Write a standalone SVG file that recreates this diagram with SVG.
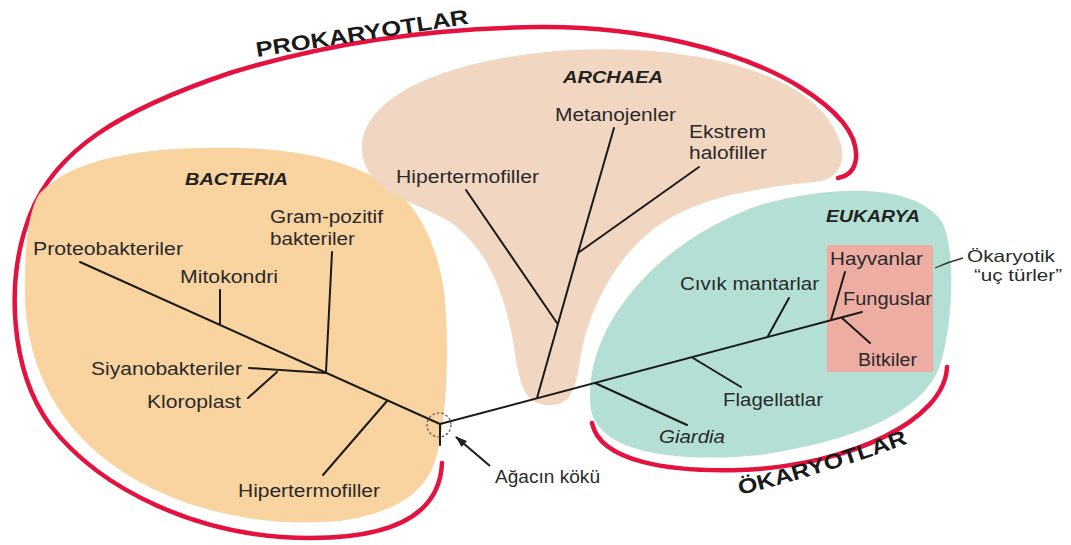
<svg xmlns="http://www.w3.org/2000/svg" width="1071" height="545" viewBox="0 0 1071 545">
<defs>
<marker id="ah" markerWidth="12" markerHeight="10" refX="11" refY="5" orient="auto" markerUnits="userSpaceOnUse"><path d="M0,1 L12,5 L0,9 Z" fill="#222"/></marker>
<path id="pp" d="M 257 57 L 473 23"/>
<path id="ep" d="M 740 495 Q 825 474 912 442"/>
</defs>
<style>
text{font-family:"Liberation Sans",Arial,sans-serif;font-size:17.5px;fill:#2a2a2a}
.dom{font-weight:bold;font-style:italic;font-size:17px;fill:#222}
.big{font-weight:bold;font-size:21px;fill:#1a1a1a}
.it{font-style:italic}
.sm{font-size:16.5px}
.br{stroke:#1a1a1a;stroke-width:2;fill:none;stroke-linecap:round}
.red{stroke:#E3123F;stroke-width:4.5;fill:none;stroke-linecap:round}
</style>
<rect width="1071" height="545" fill="#ffffff"/>

<g id="prokaryotes">
<path class="red" d="M 442 463 C 440 510 400 538 310 538 C 200 538 100 490 50 425 C 10 370 5 280 30 215 C 55 150 120 110 230 73 C 330 42 430 28 540 27 C 640 26 740 50 800 87 C 840 112 858 135 856 158 C 855 170 848 176 838 178"/>
<text class="big"><textPath href="#pp" textLength="215" lengthAdjust="spacingAndGlyphs">PROKARYOTLAR</textPath></text>
</g>

<g id="bacteria">
<path fill="#F9D3A0" d="M 40 193 C 70 160 140 145 240 148 C 320 150 370 170 397 192 C 420 210 440 250 445 300 C 449 350 447 410 438 450 C 430 490 400 512 340 521 C 260 528 180 510 120 470 C 60 430 28 370 25 300 C 24 250 28 210 40 193 Z"/>
<text class="dom" x="185" y="185" textLength="103" lengthAdjust="spacingAndGlyphs">BACTERIA</text>
</g>

<g id="archaea">
<path fill="#F1D6C1" d="M 362 150 C 360 95 450 58 570 50 C 690 44 800 70 832 125 C 848 150 846 174 822 181 C 760 188 700 195 655 228 C 615 258 588 310 580 360 C 575 395 568 405 550 405 C 530 405 522 395 516 360 C 508 300 490 250 450 222 C 420 202 365 195 362 150 Z"/>
<text class="dom" x="563" y="83" textLength="100" lengthAdjust="spacingAndGlyphs">ARCHAEA</text>
</g>

<g id="eukarya">
<path fill="#B3DFD5" d="M 590 395 C 590 320 660 240 760 205 C 830 185 915 182 942 222 C 957 250 952 330 940 365 C 925 410 860 440 760 455 C 690 462 625 455 602 430 C 592 420 590 410 590 395 Z"/>
<rect x="827" y="245" width="106" height="127" fill="#EEADA3"/>
<text class="dom" x="826" y="222" textLength="94" lengthAdjust="spacingAndGlyphs">EUKARYA</text>
</g>

<g id="eukaryotes">
<path class="red" d="M 592 423 C 600 462 670 472 740 470 C 850 466 945 420 947 367"/>
<text class="big"><textPath href="#ep" textLength="176" lengthAdjust="spacingAndGlyphs">ÖKARYOTLAR</textPath></text>
</g>

<g id="connectors">
<path class="br" d="M 80 262 L 440 424"/>
<path class="br" d="M 220 290 L 220 324"/>
<path class="br" d="M 332 252 L 326 372"/>
<path class="br" d="M 249 368 L 326 373"/>
<path class="br" d="M 248 398 L 277 372"/>
<path class="br" d="M 387 401 L 323 475"/>
<path class="br" d="M 440 424 L 440 445"/>
<path class="br" d="M 440 424 L 862 312"/>
<path class="br" d="M 537 398 L 578 253"/>
<path class="br" d="M 578 253 L 614 128"/>
<path class="br" d="M 578 253 L 699 167"/>
<path class="br" d="M 466 190 L 557 323"/>
<path class="br" d="M 595 383 L 687 425"/>
<path class="br" d="M 693 358 L 741 387"/>
<path class="br" d="M 768 336 L 789 298"/>
<path class="br" d="M 831 320 L 845 272"/>
<path class="br" d="M 842 318 L 870 343"/>
<path d="M 935 268 Q 948 262 963 258" stroke="#333" stroke-width="1.3" fill="none"/>
<path d="M 490 466 L 456 437" stroke="#222" stroke-width="2.2" fill="none" marker-end="url(#ah)"/>
</g>

<g id="root">
<circle cx="439" cy="425" r="12" fill="none" stroke="#555" stroke-width="1.2" stroke-dasharray="2.5 2"/>
<text x="495" y="483" textLength="105" lengthAdjust="spacingAndGlyphs">Ağacın kökü</text>
</g>

<g id="n-proteo"><text x="33" y="255" textLength="150" lengthAdjust="spacingAndGlyphs">Proteobakteriler</text></g>
<g id="n-mito"><text x="180" y="283" textLength="98" lengthAdjust="spacingAndGlyphs">Mitokondri</text></g>
<g id="n-gram"><text x="270" y="223" textLength="113" lengthAdjust="spacingAndGlyphs">Gram-pozitif</text><text x="270" y="245" textLength="85" lengthAdjust="spacingAndGlyphs">bakteriler</text></g>
<g id="n-siyano"><text x="91" y="375" textLength="151" lengthAdjust="spacingAndGlyphs">Siyanobakteriler</text></g>
<g id="n-kloro"><text x="147" y="408" textLength="94" lengthAdjust="spacingAndGlyphs">Kloroplast</text></g>
<g id="n-hiper-b"><text x="238" y="497" textLength="142" lengthAdjust="spacingAndGlyphs">Hipertermofiller</text></g>
<g id="n-hiper-a"><text x="396" y="183" textLength="143" lengthAdjust="spacingAndGlyphs">Hipertermofiller</text></g>
<g id="n-metano"><text x="555" y="121" textLength="121" lengthAdjust="spacingAndGlyphs">Metanojenler</text></g>
<g id="n-halo"><text x="689" y="138" textLength="77" lengthAdjust="spacingAndGlyphs">Ekstrem</text><text x="689" y="159" textLength="78" lengthAdjust="spacingAndGlyphs">halofiller</text></g>
<g id="n-civik"><text x="680" y="290" textLength="139" lengthAdjust="spacingAndGlyphs">Cıvık mantarlar</text></g>
<g id="n-flag"><text x="723" y="406" textLength="100" lengthAdjust="spacingAndGlyphs">Flagellatlar</text></g>
<g id="n-giardia"><text class="it" x="659" y="443" textLength="66" lengthAdjust="spacingAndGlyphs">Giardia</text></g>
<g id="n-hayvan"><text x="830" y="265" textLength="93" lengthAdjust="spacingAndGlyphs">Hayvanlar</text></g>
<g id="n-fungus"><text x="843" y="305" textLength="89" lengthAdjust="spacingAndGlyphs">Funguslar</text></g>
<g id="n-bitki"><text x="858" y="366" textLength="59" lengthAdjust="spacingAndGlyphs">Bitkiler</text></g>
<g id="n-uc"><text class="sm" x="967" y="262" textLength="88" lengthAdjust="spacingAndGlyphs">Ökaryotik</text><text class="sm" x="974" y="281" textLength="88" lengthAdjust="spacingAndGlyphs">“uç türler”</text></g>
</svg>
